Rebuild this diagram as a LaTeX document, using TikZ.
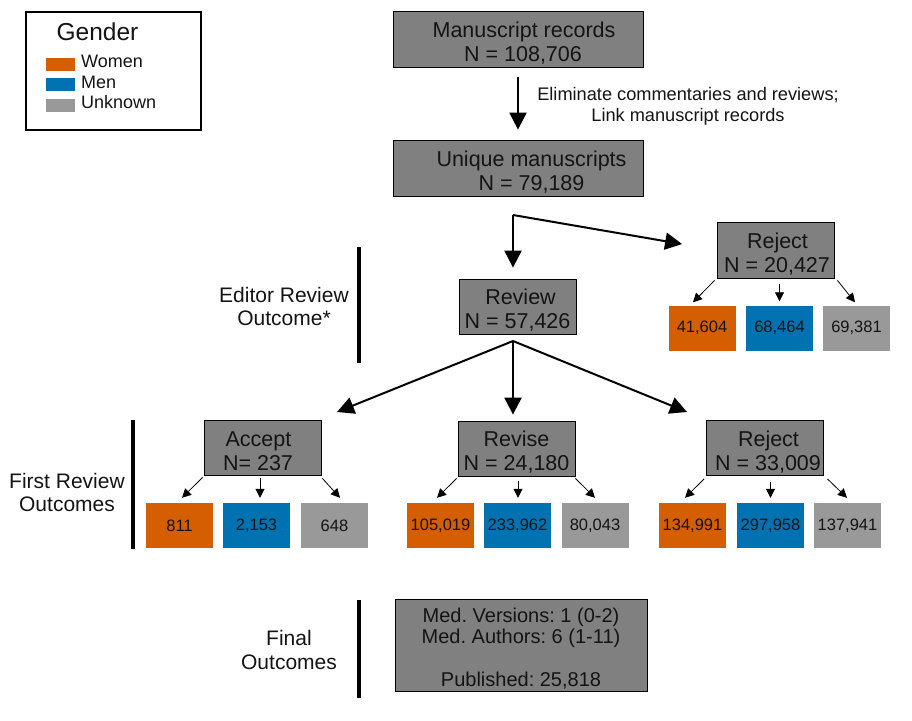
\documentclass[tikz,border=0pt]{standalone}
\usepackage{fontspec}
\setmainfont{Liberation Sans}
\usetikzlibrary{arrows.meta,calc}
\definecolor{boxgray}{HTML}{808080}
\definecolor{cwomen}{HTML}{D55E00}
\definecolor{cmen}{HTML}{0072B2}
\definecolor{cunk}{HTML}{999999}
\definecolor{txt}{HTML}{141414}
\newcommand{\myupstrut}{\rule{0pt}{23pt}}
\frenchspacing
\begin{document}
\begin{tikzpicture}[x=1pt,y=-1pt,
  every node/.style={text=txt},
  flowbox/.style={draw=black, line width=0.8pt, fill=boxgray, align=center, inner sep=0pt,
    minimum width=117pt, minimum height=55pt, font=\fontsize{21.5}{24}\selectfont},
  catbox/.style={inner sep=0pt, minimum width=67pt, minimum height=45pt, font=\fontsize{16.5}{19}\selectfont},
  women/.style={catbox, fill=cwomen},
  men/.style={catbox, fill=cmen},
  unk/.style={catbox, fill=cunk},
  swatch/.style={inner sep=0pt, minimum width=29pt, minimum height=13pt},
  legtext/.style={anchor=west, inner sep=0pt, font=\fontsize{18}{20}\selectfont},
  sidelabel/.style={align=center, inner sep=0pt, font=\fontsize{21}{23.5}\selectfont},
  sidebar/.style={line width=4pt},
  bigarrow/.style={line width=2pt, -{Triangle[width=17pt,length=17pt]}},
  smallarrow/.style={line width=0.8pt, -{Triangle[width=9pt,length=9pt]}},
]
\useasboundingbox (0,0) rectangle (912,720);

% legend
\node[draw=black, line width=1.6pt, minimum width=175pt, minimum height=118pt, inner sep=0pt] (legend) at (113.5,71) {};
\node[inner sep=0pt, font=\fontsize{24.5}{28}\selectfont] (gender) at (97.5,32) {Gender};
\node[swatch, fill=cwomen] (swW) at (60.5,64.5) {};
\node[swatch, fill=cmen] (swM) at (60.5,84.5) {};
\node[swatch, fill=cunk] (swU) at (60.5,105.5) {};
\node[legtext] (lW) at (81,61) {Women};
\node[legtext] (lM) at (81,82) {Men};
\node[legtext] (lU) at (81,102) {Unknown};

% main flow boxes
\node[flowbox, minimum width=250pt, minimum height=56pt] (mr) at (518,39) {\myupstrut\hspace*{12pt}Manuscript records\\\hspace*{10pt}N = 108,706};
\node[flowbox, minimum width=250pt, minimum height=56pt] (um) at (518,168) {\myupstrut\hspace*{27pt}Unique manuscripts\\\hspace*{27pt}N = 79,189};
\node[font=\fontsize{18.2}{21}\selectfont, align=center, inner sep=0pt] (elim) at (688,106.5) {Eliminate commentaries and reviews;\\Link manuscript records};

\node[flowbox, minimum height=56pt] (rej1) at (775.5,250) {\myupstrut\hspace*{4pt}Reject\\\hspace*{3pt}N = 20,427};
\node[flowbox] (rev) at (517.5,306.5) {\myupstrut\hspace*{6pt}Review\\N = 57,426};

\node[flowbox] (acc) at (262.5,447.5) {\myupstrut Accept\hspace*{8pt}\\N= 237\hspace*{9pt}};
\node[flowbox] (rev2) at (516.5,448.5) {\myupstrut Revise\\N = 24,180};
\node[flowbox] (rej2) at (765,448) {\myupstrut\hspace*{7pt}Reject\\\hspace*{6pt}N = 33,009};

\node[flowbox, minimum width=252pt, minimum height=92pt, font=\fontsize{20}{21.5}\selectfont] (final) at (521,645)
  {\rule{0pt}{22pt}Med. Versions: 1 (0-2)\\Med. Authors: 6 (1-11)\\\mbox{}\\Published: 25,818};

% category boxes
\node[women] (r1o) at (702,328) {41,604};
\node[men] (r1b) at (779.5,328) {68,464};
\node[unk] (r1g) at (856.5,328) {69,381};

\node[women] (ao) at (179.5,525.5) {811};
\node[men] (ab) at (256.5,525.5) {2,153};
\node[unk] (ag) at (334.5,525.5) {648};

\node[women] (vo) at (440.5,525.5) {105,019};
\node[men] (vb) at (517.5,525.5) {233,962};
\node[unk] (vg) at (595,525.5) {80,043};

\node[women] (jo) at (692.5,525.5) {134,991};
\node[men] (jb) at (770.5,525.5) {297,958};
\node[unk] (jg) at (847.5,525.5) {137,941};

% side labels and bars
\node[sidelabel] (erlabel) at (284,306.5) {Editor Review\\Outcome*};
\node[sidelabel] (frlabel) at (67,492.5) {First Review\\Outcomes};
\node[sidelabel] (folabel) at (289,650) {Final\\Outcomes};
\draw[sidebar] (359,247) -- (359,363);
\draw[sidebar] (133,420) -- (133,549);
\draw[sidebar] (359,600) -- (359,698);

% big arrows
\draw[bigarrow, shorten <=10pt, shorten >=10pt] (mr.south) -- (um.north);
\coordinate (b1) at (513,215);
\draw[bigarrow, shorten >=11pt] (b1) -- (b1 |- rev.north);
\draw[bigarrow, shorten >=35pt] (b1) -- (rej1.west);
\coordinate (b2) at (513,341);
\coordinate (t1) at (337,412);
\coordinate (t3) at (687,412);
\draw[bigarrow] (b2) -- (t1);
\draw[bigarrow, shorten >=6pt] (b2) -- (b2 |- rev2.north);
\draw[bigarrow] (b2) -- (t3);

% small arrows
\draw[smallarrow] ($(rej1.south west)+(-2,2)$) -- ($(r1o.north)+(-9,-3)$);
\draw[smallarrow] ($(r1b.north |- rej1.south)+(0,6)$) -- ($(r1b.north)+(0,-4)$);
\draw[smallarrow] ($(rej1.south east)+(3,2)$) -- ($(r1g.north)+(-1.5,-3)$);

\draw[smallarrow] ($(acc.south west)+(-1,2)$) -- ($(ao.north)+(2.5,-5)$);
\draw[smallarrow] ($(acc.south)+(-2.5,3)$) -- ($(ab.north)+(3.5,-5)$);
\draw[smallarrow] ($(acc.south east)+(1,3)$) -- ($(ag.north)+(5.5,-5)$);

\draw[smallarrow] ($(rev2.south west)+(-1,2)$) -- ($(vo.north)+(-3.5,-5)$);
\draw[smallarrow] ($(rev2.south)+(1.5,5)$) -- ($(vb.north)+(0.5,-5)$);
\draw[smallarrow] ($(rev2.south east)+(0,2)$) -- ($(vg.north)+(0,-5)$);

\draw[smallarrow] ($(rej2.south west)+(-2,3)$) -- ($(jo.north)+(-7.5,-5)$);
\draw[smallarrow] ($(jb.north |- rej2.south)+(0,6)$) -- ($(jb.north)+(0,-5)$);
\draw[smallarrow] ($(rej2.south east)+(3.5,3)$) -- ($(jg.north)+(-0.5,-5)$);
\end{tikzpicture}
\end{document}
